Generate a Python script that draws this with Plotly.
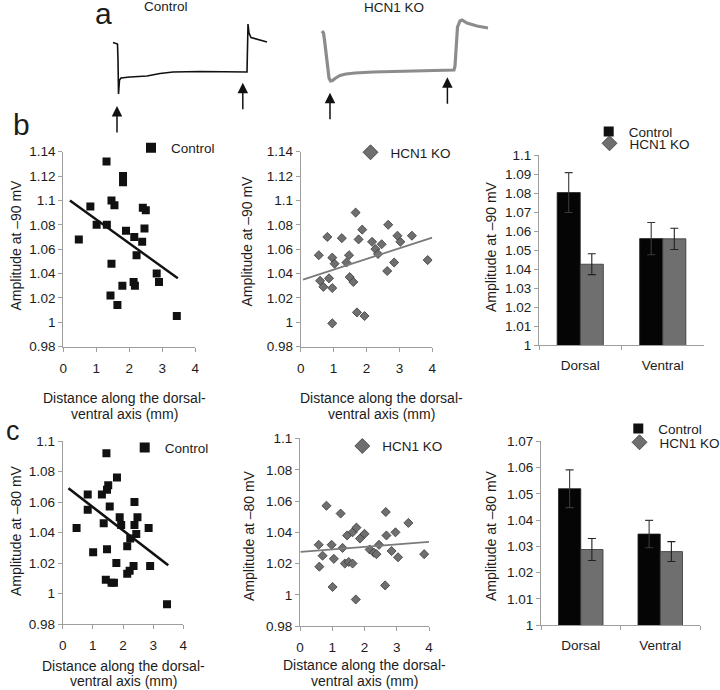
import plotly.graph_objects as go

W, H = 720, 690


def fx(p):
    return p / W


def fy(p):
    return 1 - p / H


FONT = "Liberation Sans, Arial, Helvetica, sans-serif"
TXT = "#1c1c1c"
AXC = "#9e9e9e"
BLACK = "#111111"
KO_FILL = "#6f6f6f"
KO_EDGE = "#3a3a3a"
KO_TRACE = "#8c8c8c"

# ---------------- panel a : example voltage traces (ms, mV) ----------------
ctrl_t = [-25, -10, -2.5, 0, 2.5, 7.5, 15, 60, 145, 210, 275, 410, 645, 650, 655, 665, 710, 745]
ctrl_v = [-59.75, -60.25, -60.5, -68.5, -85.5, -78.5, -77.5, -77.0, -76.5, -75.25, -74.5,
          -74.25, -74.5, -50.5, -55.0, -57.25, -58.5, -59.5]
ko_t = [-5, 2.5, 7.5, 15, 22.5, 30, 37.5, 47.5, 60, 85, 115, 160, 250, 420, 585, 655, 660,
        665, 672.5, 685, 695, 720, 770, 825]
ko_v = [-59.5, -60.5, -64.0, -71.5, -79.0, -83.0, -84.5, -84.25, -83.25, -81.75, -81.0, -80.5,
        -80.0, -79.5, -79.0, -79.0, -77.0, -66.5, -57.5, -54.5, -54.0, -55.5, -57.0, -58.0]
ctrl_arrow_t = [-5, 624]
ko_arrow_t = [35, 622]

# ---------------- panel b : amplitude at -90 mV ----------------
b_ctrl_x = [0.47, 0.82, 1.01, 1.31, 1.32, 1.46, 1.55, 1.46, 1.43, 1.64, 1.81, 1.81, 1.79,
            1.90, 2.15, 2.13, 2.17, 2.22, 2.39, 2.41, 2.50, 2.46, 2.83, 2.90, 3.44]
b_ctrl_y = [1.068, 1.095, 1.080, 1.132, 1.080, 1.100, 1.096, 1.048, 1.022, 1.014, 1.120,
            1.115, 1.030, 1.075, 1.070, 1.033, 1.030, 1.055, 1.066, 1.094, 1.092, 1.077,
            1.040, 1.033, 1.005]
b_ctrl_trend_x = [0.2, 3.47]
b_ctrl_trend_y = [1.100, 1.036]

b_ko_x = [0.55, 0.59, 0.69, 0.81, 0.86, 0.96, 1.03, 0.96, 0.96, 1.25, 1.39, 1.47, 1.49,
          1.60, 1.67, 1.76, 1.87, 1.71, 1.94, 2.17, 2.27, 2.35, 2.46, 2.63, 2.66, 2.84,
          2.94, 3.03, 3.38, 3.86]
b_ko_y = [1.055, 1.034, 1.029, 1.070, 1.036, 1.053, 1.048, 1.028, 0.999, 1.069, 1.049,
          1.055, 1.037, 1.033, 1.090, 1.068, 1.076, 1.008, 1.005, 1.066, 1.060, 1.056,
          1.064, 1.042, 1.080, 1.049, 1.071, 1.066, 1.071, 1.051]
b_ko_trend_x = [0.07, 4.0]
b_ko_trend_y = [1.035, 1.0695]

regions = ["Dorsal", "Ventral"]
b_bar_ctrl = [1.0804, 1.0561]
b_bar_ctrl_err = [0.0105, 0.0085]
b_bar_ko = [1.0426, 1.0560]
b_bar_ko_err = [0.0055, 0.0056]

# ---------------- panel c : amplitude at -80 mV ----------------
c_ctrl_x = [0.46, 0.83, 0.83, 1.01, 1.30, 1.45, 1.51, 1.47, 1.56, 1.36, 1.47, 1.43, 1.62,
            1.70, 1.80, 1.78, 1.89, 1.94, 2.14, 2.24, 2.14, 2.22, 2.35, 2.38, 2.38, 2.48,
            2.44, 2.85, 2.90, 3.46]
c_ctrl_y = [1.043, 1.065, 1.055, 1.027, 1.065, 1.092, 1.071, 1.068, 1.057, 1.046, 1.029,
            1.009, 1.007, 1.007, 1.076, 1.020, 1.050, 1.045, 1.031, 1.036, 1.013, 1.015,
            1.018, 1.060, 1.045, 1.050, 1.039, 1.043, 1.018, 0.993]
c_ctrl_trend_x = [0.19, 3.5]
c_ctrl_trend_y = [1.069, 1.0185]

c_ko_x = [0.58, 0.60, 0.70, 0.82, 0.98, 1.05, 1.01, 1.26, 1.32, 1.39, 1.46, 1.51, 1.63,
          1.63, 1.75, 1.86, 2.00, 1.73, 2.16, 2.29, 2.37, 2.45, 2.66, 2.68, 2.64, 2.84,
          2.96, 3.04, 3.36, 3.85]
c_ko_y = [1.032, 1.018, 1.025, 1.057, 1.032, 1.023, 1.005, 1.052, 1.030, 1.020, 1.038,
          1.021, 1.020, 1.040, 1.043, 1.036, 1.039, 0.997, 1.029, 1.027, 1.026, 1.032,
          1.053, 1.038, 1.006, 1.028, 1.040, 1.024, 1.046, 1.026]
c_ko_trend_x = [0.02, 4.0]
c_ko_trend_y = [1.0275, 1.0339]

c_bar_ctrl = [1.0520, 1.0347]
c_bar_ctrl_err = [0.0072, 0.0052]
c_bar_ko = [1.0288, 1.0280]
c_bar_ko_err = [0.0042, 0.0038]

x_title = ["Distance along the dorsal-", "ventral axis (mm)"]
y_title_b = "Amplitude at \u201390 mV"
y_title_c = "Amplitude at \u201380 mV"

fig = go.Figure()

# ---- panel a traces ----
fig.add_trace(go.Scatter(x=ctrl_t, y=ctrl_v, mode="lines", line=dict(color=BLACK, width=1.6),
                         xaxis="x7", yaxis="y7", showlegend=False, hoverinfo="skip"))
fig.add_trace(go.Scatter(x=ko_t, y=ko_v, mode="lines", line=dict(color=KO_TRACE, width=3.2),
                         xaxis="x8", yaxis="y8", showlegend=False, hoverinfo="skip"))

SQ = dict(symbol="square", size=8, color=BLACK, line=dict(width=0))
DM = dict(symbol="diamond", size=7, color=KO_FILL, line=dict(width=0.8, color=KO_EDGE))
SQ_LEG = dict(symbol="square", size=10, color=BLACK, line=dict(width=0))
DM_LEG = dict(symbol="diamond", size=11.5, color=KO_FILL, line=dict(width=0.8, color=KO_EDGE))


def add_scatter_panel(xs, ys, tx, ty, n, marker, legmarker, trend_color, trend_w, name, leg):
    xa, ya = ("x", "y") if n == 1 else ("x%d" % n, "y%d" % n)
    fig.add_trace(go.Scatter(x=xs, y=ys, mode="markers", marker=marker, xaxis=xa, yaxis=ya,
                             showlegend=False, hoverinfo="skip"))
    fig.add_trace(go.Scatter(x=tx, y=ty, mode="lines", line=dict(color=trend_color, width=trend_w),
                             xaxis=xa, yaxis=ya, showlegend=False, hoverinfo="skip"))
    fig.add_trace(go.Scatter(x=[None], y=[None], mode="markers", marker=legmarker, name=name,
                             xaxis=xa, yaxis=ya, legend=leg, showlegend=True))


add_scatter_panel(b_ctrl_x, b_ctrl_y, b_ctrl_trend_x, b_ctrl_trend_y, 1, SQ, SQ_LEG, BLACK, 2.4,
                  "Control", "legend")
add_scatter_panel(b_ko_x, b_ko_y, b_ko_trend_x, b_ko_trend_y, 2, DM, DM_LEG, "#7a7a7a", 1.8,
                  "HCN1 KO", "legend2")
add_scatter_panel(c_ctrl_x, c_ctrl_y, c_ctrl_trend_x, c_ctrl_trend_y, 4, SQ, SQ_LEG, BLACK, 2.6,
                  "Control", "legend5")
add_scatter_panel(c_ko_x, c_ko_y, c_ko_trend_x, c_ko_trend_y, 5, DM, DM_LEG, "#7a7a7a", 1.8,
                  "HCN1 KO", "legend6")


def add_bar_panel(n, ctrl, ctrl_err, ko, ko_err, leg_a, leg_b):
    xa, ya = "x%d" % n, "y%d" % n
    fig.add_trace(go.Bar(x=regions, y=ctrl, marker=dict(color="#050505", line=dict(color="#222", width=0.8)),
                         error_y=dict(type="data", array=ctrl_err, color="#3a3a3a", thickness=1.1, width=4),
                         xaxis=xa, yaxis=ya, showlegend=False, hoverinfo="skip"))
    fig.add_trace(go.Bar(x=regions, y=ko, marker=dict(color=KO_FILL, line=dict(color="#333", width=0.8)),
                         error_y=dict(type="data", array=ko_err, color="#222", thickness=1.1, width=4),
                         xaxis=xa, yaxis=ya, showlegend=False, hoverinfo="skip"))
    fig.add_trace(go.Scatter(x=[None], y=[None], mode="markers", marker=SQ_LEG, name="Control",
                             xaxis=xa, yaxis=ya, legend=leg_a, showlegend=True))
    fig.add_trace(go.Scatter(x=[None], y=[None], mode="markers", marker=DM_LEG, name="HCN1 KO",
                             xaxis=xa, yaxis=ya, legend=leg_b, showlegend=True))


add_bar_panel(3, b_bar_ctrl, b_bar_ctrl_err, b_bar_ko, b_bar_ko_err, "legend3", "legend4")
add_bar_panel(6, c_bar_ctrl, c_bar_ctrl_err, c_bar_ko, c_bar_ko_err, "legend7", "legend8")

TICKFONT = dict(size=13.5, color=TXT, family=FONT)


def common_axis():
    return dict(showline=True, linecolor=AXC, linewidth=1, ticks="outside", ticklen=4,
                tickcolor=AXC, tickwidth=1, showgrid=False, zeroline=False, tickfont=TICKFONT,
                fixedrange=True, automargin=False)


def sc_x(x0, x1, anchor):
    d = common_axis()
    d.update(domain=[fx(x0), fx(x1)], range=[0, 4], dtick=1, tick0=0, anchor=anchor,
             ticklabelstandoff=5)
    return d


def val_y(ytop, ybot, rng, dtick, anchor):
    d = common_axis()
    d.update(domain=[fy(ybot), fy(ytop)], range=rng, dtick=dtick, tick0=rng[0], anchor=anchor)
    return d


def cat_x(x0, x1, anchor):
    d = common_axis()
    d.update(domain=[fx(x0), fx(x1)], type="category", tickson="boundaries", anchor=anchor,
             ticklabelstandoff=8)
    return d


hidden = dict(visible=False, fixedrange=True, showgrid=False, zeroline=False)


def leg(cx, cy):
    return dict(x=fx(cx - 23), y=fy(cy), xanchor="left", yanchor="middle",
                bgcolor="rgba(0,0,0,0)", borderwidth=0, itemsizing="trace",
                font=dict(size=13.5, color=TXT, family=FONT))


fig.update_layout(
    width=W, height=H, autosize=False,
    margin=dict(l=0, r=0, t=0, b=0, pad=0, autoexpand=False),
    paper_bgcolor="white", plot_bgcolor="white",
    font=dict(family=FONT, color=TXT, size=13.5),
    barmode="group", bargap=0.44, bargroupgap=0,
    hovermode=False,
    xaxis=sc_x(63.3, 195.3, "y"),
    yaxis=val_y(151.5, 346.5, [0.98, 1.1402], 0.02, "x"),
    xaxis2=sc_x(300.7, 432.3, "y2"),
    yaxis2=val_y(151.5, 346.5, [0.98, 1.1402], 0.02, "x2"),
    xaxis3=cat_x(539, 704, "y3"),
    yaxis3=val_y(155, 345, [1.0, 1.1002], 0.01, "x3"),
    xaxis4=sc_x(62.7, 183.3, "y4"),
    yaxis4=val_y(440.7, 624, [0.98, 1.1002], 0.02, "x4"),
    xaxis5=sc_x(300, 429, "y5"),
    yaxis5=val_y(438.3, 626, [0.98, 1.1002], 0.02, "x5"),
    xaxis6=cat_x(541, 700, "y6"),
    yaxis6=val_y(441, 625, [1.0, 1.0702], 0.01, "x6"),
    xaxis7=dict(hidden, domain=[fx(112), fx(268)], range=[-30, 750], anchor="y7"),
    yaxis7=dict(hidden, domain=[fy(99), fy(19)], range=[-88, -48], anchor="x7"),
    xaxis8=dict(hidden, domain=[fx(317), fx(493)], range=[-30, 850], anchor="y8"),
    yaxis8=dict(hidden, domain=[fy(88), fy(8)], range=[-88, -48], anchor="x8"),
    legend=leg(154, 148),
    legend2=leg(373.5, 152.5),
    legend3=leg(611.7, 131.7),
    legend4=leg(612.5, 143.5),
    legend5=leg(147.7, 447.7),
    legend6=leg(365.3, 446.2),
    legend7=leg(641.3, 428.7),
    legend8=leg(642.5, 442.5),
)

ann = []


def text(x, y, s, size=14, angle=0, anchor="center"):
    ann.append(dict(x=fx(x), y=fy(y), xref="paper", yref="paper", text=s, showarrow=False,
                    textangle=angle, xanchor=anchor, yanchor="middle",
                    font=dict(size=size, color=TXT, family=FONT)))


# panel letters
text(93, 13, "a", size=30, anchor="left")
text(11, 124, "b", size=30, anchor="left")
text(4, 431, "c", size=27, anchor="left")
# trace labels
text(166, 7, "Control", size=13.5)
text(394, 7.5, "HCN1 KO", size=13.5)
# y titles
text(15.5, 245, y_title_b, angle=-90)
text(247, 241.5, y_title_b, angle=-90)
text(491, 247, y_title_b, angle=-90)
text(16, 531, y_title_c, angle=-90)
text(249, 536, y_title_c, angle=-90)
text(491, 536, y_title_c, angle=-90)
# x titles
for cx, y1, y2 in [(124, 398, 414), (381, 398, 414), (123, 666, 681), (364, 665, 681)]:
    text(cx, y1, x_title[0])
    text(cx, y2, x_title[1])

# stimulus arrows
for t, tip in zip(ctrl_arrow_t, [106, 82.7]):
    ann.append(dict(x=t, y=fy(tip), xref="x7", yref="paper", text="", showarrow=True,
                    ax=0, ay=28, arrowhead=2, arrowsize=1.4, arrowwidth=1.5, arrowcolor=BLACK))
for t, tip in zip(ko_arrow_t, [92.7, 77.3]):
    ann.append(dict(x=t, y=fy(tip), xref="x8", yref="paper", text="", showarrow=True,
                    ax=0, ay=28, arrowhead=2, arrowsize=1.4, arrowwidth=1.5, arrowcolor=BLACK))

fig.update_layout(annotations=ann)

fig.write_html(
    "out.html",
    config={"displayModeBar": False, "staticPlot": True},
    post_script="document.body.style.margin='0px';document.body.style.overflow='hidden';",
)
